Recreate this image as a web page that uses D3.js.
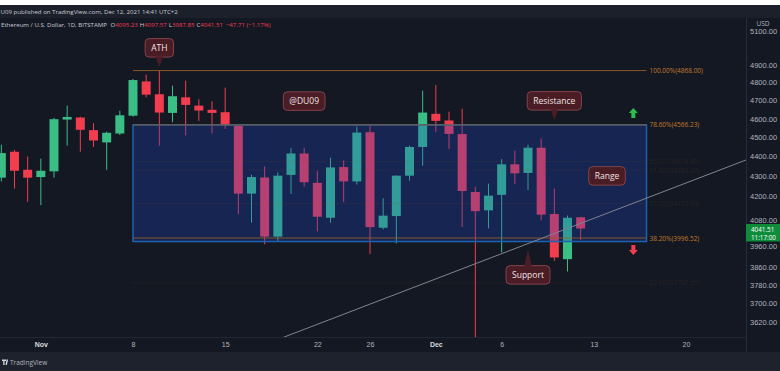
<!DOCTYPE html>
<html>
<head>
<meta charset="utf-8">
<script src="https://cdn.jsdelivr.net/npm/d3@7"></script>
<style>
body { margin: 0; background: #ffffff; }
svg { display: block; font-family: "Open Sans", "Liberation Sans", sans-serif; }
</style>
</head>
<body>
<script>
// ETH/USD daily candles, Bitstamp
var candleDates = ['2021-10-29','2021-10-30','2021-10-31','2021-11-01','2021-11-02','2021-11-03','2021-11-04',
  '2021-11-05','2021-11-06','2021-11-07','2021-11-08','2021-11-09','2021-11-10','2021-11-11','2021-11-12',
  '2021-11-13','2021-11-14','2021-11-15','2021-11-16','2021-11-17','2021-11-18','2021-11-19','2021-11-20',
  '2021-11-21','2021-11-22','2021-11-23','2021-11-24','2021-11-25','2021-11-26','2021-11-27','2021-11-28',
  '2021-11-29','2021-11-30','2021-12-01','2021-12-02','2021-12-03','2021-12-04','2021-12-05','2021-12-06',
  '2021-12-07','2021-12-08','2021-12-09','2021-12-10','2021-12-11','2021-12-12'];
var opens  = [4291,4424,4331,4294,4323,4595,4606,4538,4473,4520,4616,4806,4734,4631,4717,4671,4648,4635,4561,4211,
  4292,4003,4305,4415,4265,4093,4345,4272,4527,4045,4101,4301,4449,4626,4590,4517,4219,4129,4205,4359,4315,4445,
  4111,3898,4095.23];
var highs  = [4461,4434,4399,4388,4604,4671,4610,4576,4530,4643,4820,4845,4868,4782,4810,4706,4695,4771,4567,4306,
  4348,4318,4443,4445,4326,4393,4379,4557,4560,4188,4303,4456,4754,4786,4638,4654,4245,4261,4386,4430,4461,4494,
  4236,4104,4097.57];
var lows   = [4272,4236,4171,4154,4291,4456,4424,4449,4331,4512,4610,4717,4456,4581,4510,4588,4520,4544,4110,4069,
  3967,3981,4209,4247,4028,4069,4169,4256,3921,4037,3971,4276,4352,4529,4438,4048,3500,4042,3929,4259,4228,4080,
  3890,3842,3987.85];
var closes = [4417,4326,4291,4326,4597,4609,4540,4483,4524,4618,4814,4732,4633,4723,4675,4644,4631,4563,4211,4294,
  4003,4301,4415,4268,4098,4343,4272,4525,4048,4103,4301,4449,4633,4588,4518,4224,4125,4201,4359,4313,4445,4108,
  3906,4093,4041.51];

var priceTicks = [5100,4900,4800,4700,4600,4500,4400,4300,4200,4080,3960,3860,3780,3700,3620];
var dateTicks = ['2021-11-01','2021-11-08','2021-11-15','2021-11-22','2021-11-26','2021-12-01','2021-12-06','2021-12-13','2021-12-20'];

// fib retracement drawn from the ATH
var fibLabels = ['100.00%','78.60%','65.00%','61.80%','50.00%','38.20%','23.60%'];
var fibPrices = [4868.00,4566.23,4374.45,4329.33,4162.93,3996.52,3790.65];
var fibStrong = [true,true,false,false,false,true,false];
var fibStart = '2021-11-08', fibEnd = '2021-12-17';

var rangeDates = ['2021-11-08','2021-12-17'];
var rangePrices = [4566.23,3980];

var trendDates = ['2021-11-30','2021-12-12'];
var trendPrices = [3786,4066];

var noteTexts = ['ATH','@DU09','Resistance','Range','Support'];
var noteDates = ['2021-11-10','2021-11-21','2021-12-10','2021-12-14','2021-12-08'];
var notePrices = [4888,4696,4592,4300,3940];
var notePointers = ['down',null,'down',null,'up'];

var arrowDirs = ['up','down'];
var arrowDates = ['2021-12-16','2021-12-16'];
var arrowPrices = [4631,3940];

var W = 780, H = 371;
var plotRight = 746, plotTop = 18, plotBottom = 337;
var upColor = '#3bbd86', downColor = '#f23d4f';

var parse = d3.utcParse('%Y-%m-%d');
var x = d3.scaleUtc().domain([parse('2021-11-08'), parse('2021-12-20')]).range([133, 686]);
var y = d3.scaleLog().domain([3620, 4900]).range([322, 65]);

var svg = d3.select('body').append('svg').attr('width', W).attr('height', H);

svg.append('rect').attr('width', W).attr('height', H).attr('fill', '#141823');
svg.append('rect').attr('width', W).attr('height', 5).attr('fill', '#ffffff');
svg.append('rect').attr('y', 5).attr('width', W).attr('height', 13).attr('fill', '#1c202b');
svg.append('rect').attr('y', 352).attr('width', W).attr('height', 19).attr('fill', '#1e222d');

svg.append('defs').append('clipPath').attr('id', 'plotClip')
  .append('rect').attr('x', 0).attr('y', plotTop).attr('width', plotRight).attr('height', plotBottom - plotTop);

var plot = svg.append('g').attr('clip-path', 'url(#plotClip)');

var candles = candleDates.map(function(d, i) {
  return { date: parse(d), o: opens[i], h: highs[i], l: lows[i], c: closes[i] };
});

plot.selectAll('line.wick').data(candles).join('line')
  .attr('class', 'wick')
  .attr('x1', function(d) { return x(d.date); })
  .attr('x2', function(d) { return x(d.date); })
  .attr('y1', function(d) { return y(d.h); })
  .attr('y2', function(d) { return y(d.l); })
  .attr('stroke', function(d) { return d.c >= d.o ? upColor : downColor; })
  .attr('stroke-width', 1);

plot.selectAll('rect.body').data(candles).join('rect')
  .attr('class', 'body')
  .attr('x', function(d) { return x(d.date) - 4.5; })
  .attr('width', 9)
  .attr('y', function(d) { return y(Math.max(d.o, d.c)); })
  .attr('height', function(d) { return Math.max(1, y(Math.min(d.o, d.c)) - y(Math.max(d.o, d.c))); })
  .attr('fill', function(d) { return d.c >= d.o ? upColor : downColor; });

// range box sits on top of the candles, tinting them
var bx0 = x(parse(rangeDates[0])), bx1 = x(parse(rangeDates[1]));
plot.append('rect')
  .attr('x', bx0).attr('y', y(rangePrices[0]))
  .attr('width', bx1 - bx0).attr('height', y(rangePrices[1]) - y(rangePrices[0]))
  .attr('fill', 'rgb(30,72,200)').attr('fill-opacity', 0.28)
  .attr('stroke', '#1b63b0').attr('stroke-width', 1.5);

var fx0 = x(parse(fibStart)), fx1 = x(parse(fibEnd));
fibPrices.forEach(function(p, i) {
  plot.append('line')
    .attr('x1', fx0).attr('x2', fx1)
    .attr('y1', y(p)).attr('y2', y(p))
    .attr('stroke', '#9a5f28')
    .attr('stroke-opacity', fibStrong[i] ? 0.85 : 0.1)
    .attr('stroke-width', 1);
  plot.append('text')
    .attr('x', fx1 + 3).attr('y', y(p) + 2.5)
    .style('font-size', '6.5px')
    .attr('fill', '#c27a2c')
    .attr('fill-opacity', fibStrong[i] ? 1 : 0.13)
    .text(fibLabels[i] + '(' + p.toFixed(2) + ')');
});

// trend line, extended across the plot
var t0 = [x(parse(trendDates[0])), y(trendPrices[0])];
var t1 = [x(parse(trendDates[1])), y(trendPrices[1])];
var slope = (t1[1] - t0[1]) / (t1[0] - t0[0]);
plot.append('line')
  .attr('x1', 0).attr('y1', t0[1] - slope * t0[0])
  .attr('x2', plotRight).attr('y2', t0[1] + slope * (plotRight - t0[0]))
  .attr('stroke', '#80848e').attr('stroke-width', 1);

// up / down arrows
arrowDirs.forEach(function(dir, i) {
  var ax = x(parse(arrowDates[i])), ay = y(arrowPrices[i]);
  var s = dir == 'up' ? -1 : 1;
  var pts = [[ax, ay + s * 5], [ax - 4.5, ay], [ax - 2, ay], [ax - 2, ay - s * 5],
    [ax + 2, ay - s * 5], [ax + 2, ay], [ax + 4.5, ay]];
  plot.append('polygon')
    .attr('points', pts.map(function(p) { return p.join(','); }).join(' '))
    .attr('fill', dir == 'up' ? '#2cbd4f' : '#f23d4f');
});

// callouts
noteTexts.forEach(function(t, i) {
  var cx = x(parse(noteDates[i])), py = y(notePrices[i]);
  var g = plot.append('g');
  var label = g.append('text')
    .style('font-size', '8.5px').attr('fill', '#efe3e4')
    .attr('text-anchor', 'middle').text(t);
  var w = label.node().getComputedTextLength() + 12, h = 18.5;
  var top;
  if (notePointers[i] == 'down') top = py - 10 - h;
  else if (notePointers[i] == 'up') top = py + 15.5;
  else top = py - h / 2;
  g.insert('rect', 'text')
    .attr('x', cx - w / 2).attr('y', top).attr('width', w).attr('height', h)
    .attr('rx', 4).attr('fill', '#4a1c24').attr('stroke', '#83434c').attr('stroke-width', 1);
  if (notePointers[i]) {
    var base = notePointers[i] == 'down' ? top + h - 0.5 : top + 0.5;
    g.insert('path', 'text')
      .attr('d', 'M' + (cx - 4) + ',' + base + 'L' + cx + ',' + py + 'L' + (cx + 4) + ',' + base + 'Z')
      .attr('fill', '#4a1c24');
  }
  label.attr('x', cx).attr('y', top + h / 2 + 3);
});

// axis borders
svg.append('line').attr('x1', plotRight + 0.5).attr('x2', plotRight + 0.5).attr('y1', plotTop).attr('y2', 352)
  .attr('stroke', '#272b36');
svg.append('line').attr('x1', 0).attr('x2', plotRight).attr('y1', plotBottom + 0.5).attr('y2', plotBottom + 0.5)
  .attr('stroke', '#232733');

// price axis
var yAxis = svg.append('g').attr('transform', 'translate(' + (plotRight + 4) + ',0)')
  .call(d3.axisRight(y).tickValues(priceTicks).tickSize(0).tickPadding(0).tickFormat(d3.format('.2f')));
yAxis.select('.domain').remove();
yAxis.selectAll('text').style('font-size', '7.5px').attr('fill', '#b2b5be');

svg.append('text').attr('x', 763).attr('y', 25.6).attr('text-anchor', 'middle')
  .style('font-size', '6.5px').attr('fill', '#b2b5be').text('USD');

var last = candles[candles.length - 1];
svg.append('rect').attr('x', plotRight).attr('y', y(last.c) - 4.5).attr('width', W - plotRight).attr('height', 17.5)
  .attr('fill', '#0f8c3a');
svg.append('text').attr('x', 751).attr('y', y(last.c) + 3.1)
  .style('font-size', '6.3px').attr('fill', '#ffffff').text(last.c.toFixed(2));
svg.append('text').attr('x', 751).attr('y', y(last.c) + 11.7)
  .style('font-size', '6.3px').attr('fill', '#ffffff').text('11:17:00');

// time axis
var xAxis = svg.append('g').attr('transform', 'translate(0,' + (plotBottom + 5) + ')')
  .call(d3.axisBottom(x).tickValues(dateTicks.map(parse)).tickSize(0).tickPadding(0)
    .tickFormat(function(d) { return d.getUTCDate() == 1 ? d3.utcFormat('%b')(d) : d.getUTCDate(); }));
xAxis.select('.domain').remove();
xAxis.selectAll('text').style('font-size', '7px')
  .attr('fill', function(d) { return d.getUTCDate() == 1 ? '#d6d8de' : '#b2b5be'; })
  .style('font-weight', function(d) { return d.getUTCDate() == 1 ? 'bold' : 'normal'; });

// header legend
svg.append('text').attr('x', 0.5).attr('y', 14.3).style('font-size', '6.1px').attr('fill', '#c8cbd3')
  .text('U09 published on TradingView.com, Dec 12, 2021 14:41 UTC+2');

var legend = svg.append('text').attr('x', 1).attr('y', 27.3).style('font-size', '6.1px').attr('fill', '#c8cbd3');
legend.append('tspan').text('Ethereum / U.S. Dollar, 1D, BITSTAMP ');
[['O', last.o], ['H', last.h], ['L', last.l], ['C', last.c]].forEach(function(p) {
  legend.append('tspan').attr('dx', 2).attr('fill', '#c8cbd3').text(p[0]);
  legend.append('tspan').attr('fill', '#f23d4f').text(p[1].toFixed(2));
});
legend.append('tspan').attr('dx', 3).attr('fill', '#f23d4f').text('\u221247.71 (\u22121.17%)');

// footer
svg.append('path').attr('d', 'M2,359.5h4v1.5h-1.4v4h-1.4v-4h-1.2z M6.5,359.5h1.6l-1.2,5.5h-1.4z').attr('fill', '#d1d4dc');
svg.append('text').attr('x', 10).attr('y', 364.5).style('font-size', '6.5px').attr('fill', '#b2b5be').text('TradingView');
</script>
</body>
</html>
